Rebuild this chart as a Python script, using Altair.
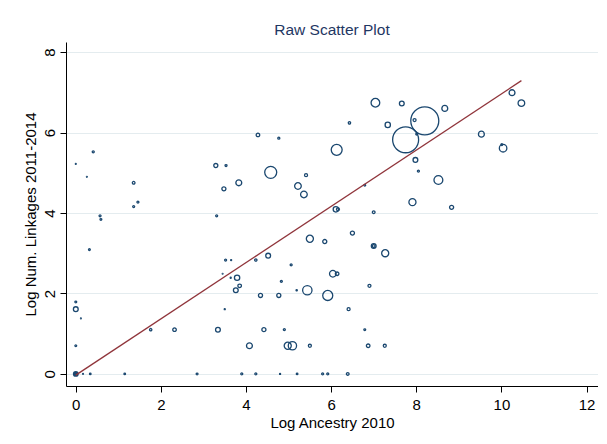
import altair as alt
import pandas as pd

NAVY = "#1a476f"
MAROON = "#90353b"
FONT = "Liberation Sans"

# Scatter points: log ancestry (x), log linkages (y), weight (marker area, relative)
x_vals = [0.41, 0.00, 0.26, 1.36, 1.36, 1.46, 0.57, 0.59, 3.29, 3.53,
          3.83, 3.48, 3.31, 7.04, 7.66, 7.96, 7.33, 6.43, 4.28, 4.77,
          6.13, 4.58, 5.41, 5.22, 5.36, 6.79, 6.11, 6.16, 7.00, 7.91,
          7.98, 8.05, 7.75, 8.20, 8.01, 8.67, 10.25, 10.47, 9.53, 10.04,
          10.01, 8.52, 8.83, 0.32, 3.52, 3.65, 3.45, 3.64, 3.79, 3.85,
          3.76, 0.00, 0.00, 0.12, 3.50, 1.76, 2.32, 3.34, 4.08, 0.00,
          0.34, 1.15, 2.85, 3.90, 0.17, 6.50, 5.50, 5.85, 7.00, 7.00,
          7.27, 4.52, 4.23, 5.06, 6.04, 6.14, 4.83, 6.90, 5.19, 5.44,
          4.34, 4.77, 5.92, 6.41, 4.42, 4.90, 6.79, 4.98, 5.09, 5.50,
          6.87, 7.26, 4.23, 4.80, 5.20, 5.80, 5.92, 6.39]
y_vals = [5.52, 5.22, 4.90, 4.75, 4.16, 4.27, 3.93, 3.84, 5.18, 5.18,
          4.75, 4.60, 3.93, 6.74, 6.72, 6.31, 6.19, 6.24, 5.94, 5.86,
          5.57, 5.01, 4.94, 4.67, 4.46, 4.69, 4.09, 4.09, 4.02, 4.27,
          5.32, 5.04, 5.82, 6.29, 5.96, 6.60, 6.99, 6.73, 5.96, 5.61,
          5.70, 4.82, 4.14, 3.09, 2.83, 2.83, 2.49, 2.39, 2.39, 2.19,
          2.08, 1.79, 1.61, 1.38, 1.61, 1.10, 1.10, 1.10, 0.70, 0.70,
          0.00, 0.00, 0.00, 0.00, 0.00, 3.50, 3.36, 3.29, 3.18, 3.18,
          3.00, 2.94, 2.83, 2.71, 2.49, 2.49, 2.30, 2.19, 2.08, 2.08,
          1.95, 1.95, 1.95, 1.61, 1.10, 1.10, 1.10, 0.70, 0.70, 0.70,
          0.70, 0.70, 0.00, 0.00, 0.00, 0.00, 0.00, 0.00]
w_vals = [1.4, 0.25, 0.25, 2.3, 1.2, 1.2, 1.2, 1.0, 5.3, 1.2,
          11, 5.3, 1.2, 24, 7.3, 2.9, 9, 1.7, 4, 1.4,
          38, 46, 2.9, 14, 14, 1.0, 9, 2.9, 2.3, 16,
          7.3, 1.2, 215, 250, 1.0, 11, 11, 14, 11, 18,
          1.0, 25, 5.3, 1.0, 1.2, 0.35, 0.2, 0.35, 9, 4,
          7.3, 1.0, 7.3, 0.2, 0.35, 1.7, 4, 7.3, 11, 1.0,
          0.8, 0.8, 1.0, 1.2, 0.25, 5.3, 16, 5.3, 7.3, 2.3,
          16, 7.3, 1.7, 1.2, 14, 4, 1.2, 2.9, 0.5, 28,
          5.3, 5.3, 32, 2.9, 5.3, 1.2, 1.0, 16, 22, 2.9,
          4, 2.9, 1.2, 0.35, 0.8, 1.2, 1.2, 2.3]

# Pile of overlapping observations at the origin (drawn solid)
origin_x = [0.0]
origin_y = [0.0]
origin_w = [11]

# Fitted line end points
fit_x = [0.0, 10.47]
fit_y = [-0.03, 7.29]

x_ticks = [0, 2, 4, 6, 8, 10, 12]
y_ticks = [0, 2, 4, 6, 8]

df = pd.DataFrame({"x": x_vals, "y": y_vals, "w": w_vals})
df0 = pd.DataFrame({"x": origin_x, "y": origin_y, "w": origin_w})
dfl = pd.DataFrame({"x": fit_x, "y": fit_y})

xscale = alt.Scale(domain=[-0.23, 12.27], nice=False, zero=False)
yscale = alt.Scale(domain=[-0.30, 8.25], nice=False, zero=False)
sscale = alt.Scale(type="linear", domain=[0, 250], range=[0, 785], zero=True)

xaxis = alt.Axis(values=x_ticks, title="Log Ancestry 2010", grid=False,
                 labelPadding=5, titlePadding=3, format="d")
yaxis = alt.Axis(values=y_ticks, title="Log Num. Linkages 2011-2014", grid=True,
                 labelAngle=270, labelAlign="center", labelBaseline="bottom",
                 labelPadding=3, titlePadding=4, format="d")

points = alt.Chart(df).mark_point(
    shape="circle", filled=False, color=NAVY, strokeWidth=1.3, opacity=1
).encode(
    x=alt.X("x:Q", scale=xscale, axis=xaxis),
    y=alt.Y("y:Q", scale=yscale, axis=yaxis),
    size=alt.Size("w:Q", scale=sscale, legend=None),
)

origin = alt.Chart(df0).mark_point(
    shape="circle", filled=True, color=NAVY, opacity=1
).encode(
    x=alt.X("x:Q", scale=xscale),
    y=alt.Y("y:Q", scale=yscale),
    size=alt.Size("w:Q", scale=sscale, legend=None),
)

line = alt.Chart(dfl).mark_line(color=MAROON, strokeWidth=1.3).encode(
    x=alt.X("x:Q", scale=xscale),
    y=alt.Y("y:Q", scale=yscale),
)

chart = alt.layer(points, origin, line).properties(
    width=532,
    height=344,
    background="white",
    title=alt.TitleParams("Raw Scatter Plot", fontSize=15.5, font=FONT,
                          fontWeight="normal", color="#1f3763",
                          anchor="middle", baseline="bottom", offset=3, dy=14),
    autosize=alt.AutoSizeParams(type="none"),
    padding={"left": 58, "top": 34, "right": 0, "bottom": 46},
).configure_view(
    stroke=None
).configure_axis(
    domainColor="black", domainWidth=1, tickColor="black", tickWidth=1,
    tickSize=6, labelColor="black", titleColor="black",
    labelFont=FONT, titleFont=FONT, labelFontSize=15, titleFontSize=15,
    titleFontWeight="normal", gridColor="#e4ecef", gridWidth=1,
)

chart.save("out.html", embed_options={"renderer": "svg", "actions": False})
